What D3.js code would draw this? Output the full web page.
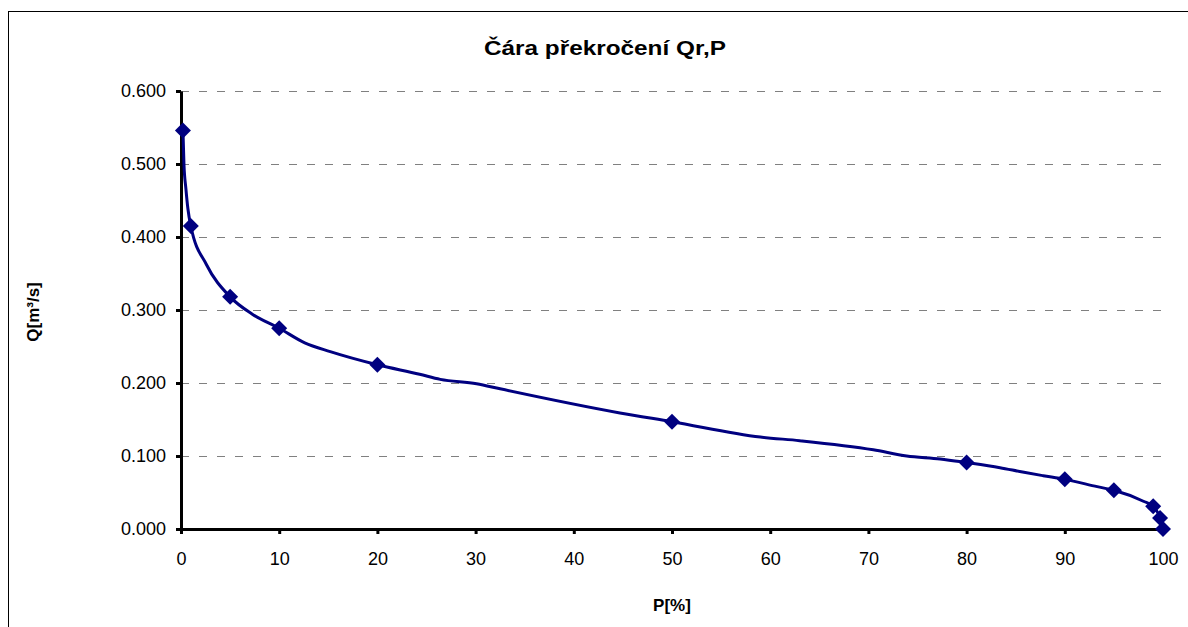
<!DOCTYPE html>
<html>
<head>
<meta charset="utf-8">
<script src="https://cdn.jsdelivr.net/npm/d3@7"></script>
<style>
  html, body { margin: 0; padding: 0; background: #fff; }
  svg { display: block; font-family: "Liberation Sans", Arial, sans-serif; }
</style>
</head>
<body>
<svg id="chart" width="1188" height="627"></svg>
<script>
// ---- data ----
const title = "Čára překročení Qr,P";
const xTitle = "P[%]";
const yTitle = "Q[m³/s]";
const xTicks = [0, 10, 20, 30, 40, 50, 60, 70, 80, 90, 100];
const yTicks = [0, 0.1, 0.2, 0.3, 0.4, 0.5, 0.6];
// marker points
const markerP = [0.2, 1, 5, 10, 20, 50, 80, 90, 95, 99, 99.7, 100];
const markerQ = [0.546, 0.415, 0.318, 0.275, 0.225, 0.147, 0.091, 0.068, 0.053, 0.031, 0.015, 0.000];
// dense curve points
const lineP = [0.2, 0.3, 0.5, 0.7, 1, 2.6, 5, 7.3, 10, 12.6, 15.2, 20, 24.3, 26.4, 30.1, 32.5, 44.7, 50, 59, 63, 70.5, 73.9, 77.3, 80, 83.4, 85.7, 87.8, 90, 93.3, 95, 98, 99, 99.7, 100];
const lineQ = [0.546, 0.500, 0.466, 0.439, 0.415, 0.362, 0.318, 0.294, 0.275, 0.255, 0.243, 0.225, 0.212, 0.205, 0.199, 0.192, 0.159, 0.147, 0.126, 0.121, 0.1085, 0.100, 0.096, 0.091, 0.084, 0.078, 0.073, 0.068, 0.058, 0.053, 0.038, 0.031, 0.015, 0.000];

const svg = d3.select("#chart");
const color = "#000080";
const font = "'Liberation Sans', Arial, sans-serif";

// outer frame
svg.append("rect").attr("x", 8.5).attr("y", 11.5).attr("width", 1200).attr("height", 700)
  .attr("fill", "none").attr("stroke", "#000").attr("stroke-width", 1);

const x = d3.scaleLinear().domain([0, 100]).range([181, 1163]);
const y = d3.scaleLinear().domain([0, 0.6]).range([529, 91]);

// gridlines
svg.append("g").selectAll("line").data(yTicks.filter(d => d > 0)).join("line")
  .attr("x1", x(0)).attr("x2", x(100))
  .attr("y1", d => Math.round(y(d)) + 0.5).attr("y2", d => Math.round(y(d)) + 0.5)
  .attr("stroke", "#808080").attr("stroke-width", 1).attr("stroke-dasharray", "8,10");

// axes
const yAxis = svg.append("g").attr("transform", `translate(${x(0)},0)`)
  .call(d3.axisLeft(y).tickValues(yTicks).tickFormat(d3.format(".3f")).tickSize(5).tickSizeOuter(0).tickPadding(10));
const xAxis = svg.append("g").attr("transform", `translate(0,${y(0)})`)
  .call(d3.axisBottom(x).tickValues(xTicks).tickFormat(d3.format("d")).tickSize(5).tickSizeOuter(0).tickPadding(18));
[yAxis, xAxis].forEach(g => {
  g.select(".domain").attr("stroke", "#000").attr("stroke-width", 3);
  g.selectAll(".tick line").attr("stroke", "#000").attr("stroke-width", 3);
  g.selectAll(".tick text").attr("fill", "#000").attr("font-size", 18).attr("font-family", font);
});

// line
const pts = lineP.map((p, i) => [p, lineQ[i]]);
svg.append("path").datum(pts)
  .attr("d", d3.line().x(d => x(d[0])).y(d => y(d[1])).curve(d3.curveMonotoneX))
  .attr("fill", "none").attr("stroke", color).attr("stroke-width", 3);

// markers
const mpts = markerP.map((p, i) => [p, markerQ[i]]);
svg.append("g").selectAll("path").data(mpts).join("path")
  .attr("transform", d => `translate(${x(d[0])},${y(d[1])})`)
  .attr("d", "M0,-8L8,0L0,8L-8,0Z")
  .attr("fill", color);

// titles
svg.append("text").attr("x", 605).attr("y", 55).attr("text-anchor", "middle")
  .attr("font-size", 21).attr("font-weight", "bold")
  .attr("textLength", 242).attr("lengthAdjust", "spacingAndGlyphs").text(title);
svg.append("text").attr("x", 672).attr("y", 611).attr("text-anchor", "middle")
  .attr("font-size", 17).attr("font-weight", "bold").text(xTitle);
svg.append("text").attr("transform", "translate(39,312) rotate(-90)").attr("text-anchor", "middle")
  .attr("font-size", 17).attr("font-weight", "bold").text(yTitle);
</script>
</body>
</html>
